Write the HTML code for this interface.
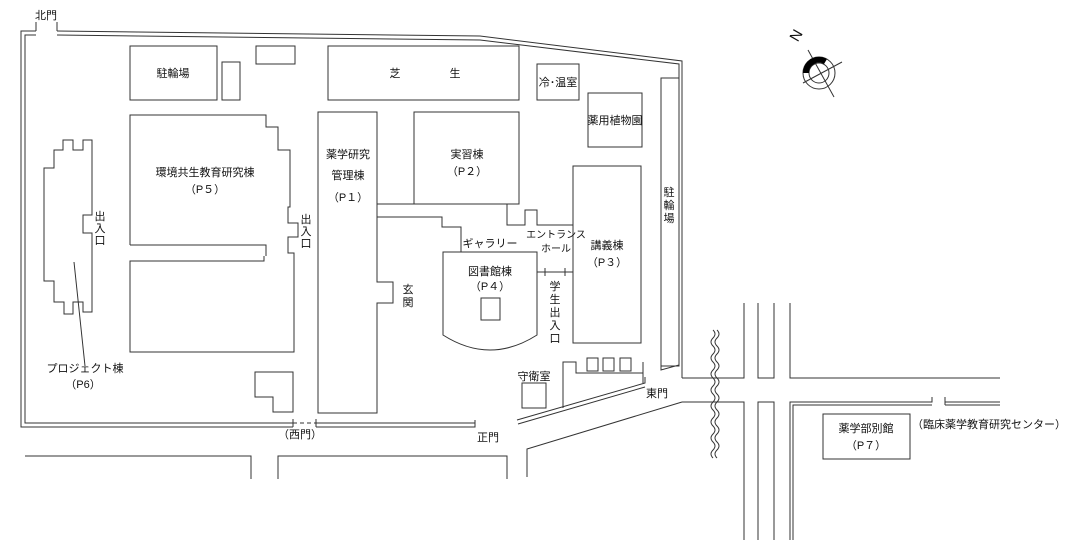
<!DOCTYPE html>
<html><head><meta charset="utf-8"><style>
html,body{margin:0;padding:0;background:#fff}
svg{display:block}
text{font-family:"Liberation Sans","Noto Sans CJK JP",sans-serif;font-size:11px;fill:#111}
</style></head><body>
<svg width="1080" height="551" viewBox="0 0 1080 551" xmlns="http://www.w3.org/2000/svg">
<g fill="none" stroke="#333" stroke-width="1">
<path d="M36,31 H21 V427 H293 M316,427 H475 V420"/>
<path d="M36,35 H25 V423 H293 M316,423 H475"/>
<path d="M293,419 V427 M316,419 V427"/>
<path d="M293,423 H316" stroke-dasharray="4,3"/>
<path d="M57,31 L480,36 L682,61 V378"/>
<path d="M57,35 L480,40 L679,64 V365 L661,370 V366"/>
<path d="M36,31 V22 M57,31 V22"/>
<rect x="130" y="46" width="87" height="54"/>
<rect x="222" y="62" width="18" height="38"/>
<rect x="256" y="46" width="39" height="18"/>
<rect x="328" y="46" width="191" height="54"/>
<rect x="537" y="64" width="42" height="36"/>
<rect x="588" y="93" width="54" height="54"/>
<rect x="661" y="78" width="18" height="288"/>
<path d="M130,245 V115 H266 V127 H278 V150 H290 V207 H288 V223 H298 V237 H288 V253 H294 V352 H130 V261 H264 V256 M130,245 H266 V256"/>
<path d="M63,140 H73 V150 H83 V140 H92 V215 H83 V233 H92 V312 H83 V302 H73 V314 H64 V302 H54 V281 H44 V168 H54 V150 H63 Z"/>
<path d="M74,262 L85,366"/>
<path d="M255,372 H293 V412 H273 V397 H255 Z"/>
<path d="M318,112 H377 V282 H393 V303 H377 V413 H318 Z"/>
<path d="M377,204 H442 M377,217 H442 V227 H461 V252"/>
<rect x="414" y="112" width="105" height="92"/>
<path d="M507,204 V225 H525 V210 H537 V225 H573"/>
<rect x="573" y="166" width="68" height="177"/>
<path d="M443,252 H537 V335 Q490,365 443,335 Z"/>
<rect x="481" y="298" width="19" height="22"/>
<path d="M537,272 H573 M545,268 V276 M565,268 V276"/>
<path d="M563,408 V362 H576 V373 H643 M643,362 V383"/>
<rect x="587" y="358" width="11" height="13"/>
<rect x="603" y="358" width="11" height="13"/>
<rect x="620" y="358" width="11" height="13"/>
<rect x="522" y="383" width="24" height="25"/>
<path d="M517,420 L645,383 V377 M518,424 L645,387"/>
<path d="M682,378 H744 V303 M758,303 V378 H774 V303 M790,303 V378 H1000"/>
<path d="M682,402 L527,449 V477 M682,402 H744 V540 M758,540 V402 H774 V540"/>
<path d="M790,540 V402 H932 V397 M793,540 V405 H932 M945,397 V405 M945,402 H1000 M945,405 H1000"/>
<path d="M25,456 H251 V479 M278,479 V456 H507 V479"/>
<path d="M713,330 q4,4 0,8 q-4,4 0,8 q4,4 0,8 q-4,4 0,8 q4,4 0,8 q-4,4 0,8 q4,4 0,8 q-4,4 0,8 q4,4 0,8 q-4,4 0,8 q4,4 0,8 q-4,4 0,8 q4,4 0,8 q-4,4 0,8 q4,4 0,8 q-4,4 0,8"/>
<path d="M717,330 q4,4 0,8 q-4,4 0,8 q4,4 0,8 q-4,4 0,8 q4,4 0,8 q-4,4 0,8 q4,4 0,8 q-4,4 0,8 q4,4 0,8 q-4,4 0,8 q4,4 0,8 q-4,4 0,8 q4,4 0,8 q-4,4 0,8 q4,4 0,8 q-4,4 0,8"/>
<rect x="823" y="414" width="87" height="45"/>
<circle cx="819" cy="73" r="16"/>
<circle cx="819" cy="73" r="10"/>
<path d="M808,50 L834,97 M803,83 L842,62"/>
</g>
<path d="M803,73 A16,16 0 0 1 827,59 L824,64 A10,10 0 0 0 809,73 Z" fill="#000"/>
<text x="0" y="0" transform="translate(797,36) rotate(-60)" style="font-size:15px" text-anchor="middle" dominant-baseline="middle">N</text>
<g text-anchor="middle">
<text x="46" y="19">北門</text>
<text x="173" y="77">駐輪場</text>
<text x="395" y="77">芝</text>
<text x="455" y="77">生</text>
<text x="558" y="86">冷･温室</text>
<text x="615" y="124">薬用植物園</text>
<text x="205" y="176">環境共生教育研究棟</text>
<text x="205" y="193">（P５）</text>
<text x="348" y="158">薬学研究</text>
<text x="348" y="179">管理棟</text>
<text x="348" y="201">（P１）</text>
<text x="467" y="158">実習棟</text>
<text x="467" y="175">（P２）</text>
<text x="490" y="247">ギャラリー</text>
<text x="556" y="238" style="font-size:10px">エントランス</text>
<text x="556" y="252" style="font-size:10px">ホール</text>
<text x="607" y="249">講義棟</text>
<text x="607" y="266">（P３）</text>
<text x="490" y="275">図書館棟</text>
<text x="490" y="290">（P４）</text>
<text x="85" y="372">プロジェクト棟</text>
<text x="83" y="388">（P6）</text>
<text x="534" y="380">守衛室</text>
<text x="657" y="397">東門</text>
<text x="300" y="438">（西門）</text>
<text x="488" y="441">正門</text>
<text x="866" y="432">薬学部別館</text>
<text x="866" y="449">（P７）</text>
</g>
<text x="912" y="428">（臨床薬学教育研究センター）</text>
<g text-anchor="middle">
<text x="100" y="220">出</text><text x="100" y="232">入</text><text x="100" y="244">口</text>
<text x="306" y="223">出</text><text x="306" y="235">入</text><text x="306" y="247">口</text>
<text x="408" y="293">玄</text><text x="408" y="306">関</text>
<text x="555" y="290">学</text><text x="555" y="303">生</text><text x="555" y="316">出</text><text x="555" y="329">入</text><text x="555" y="342">口</text>
<text x="669" y="196">駐</text><text x="669" y="209">輪</text><text x="669" y="222">場</text>
</g>
</svg>
</body></html>
